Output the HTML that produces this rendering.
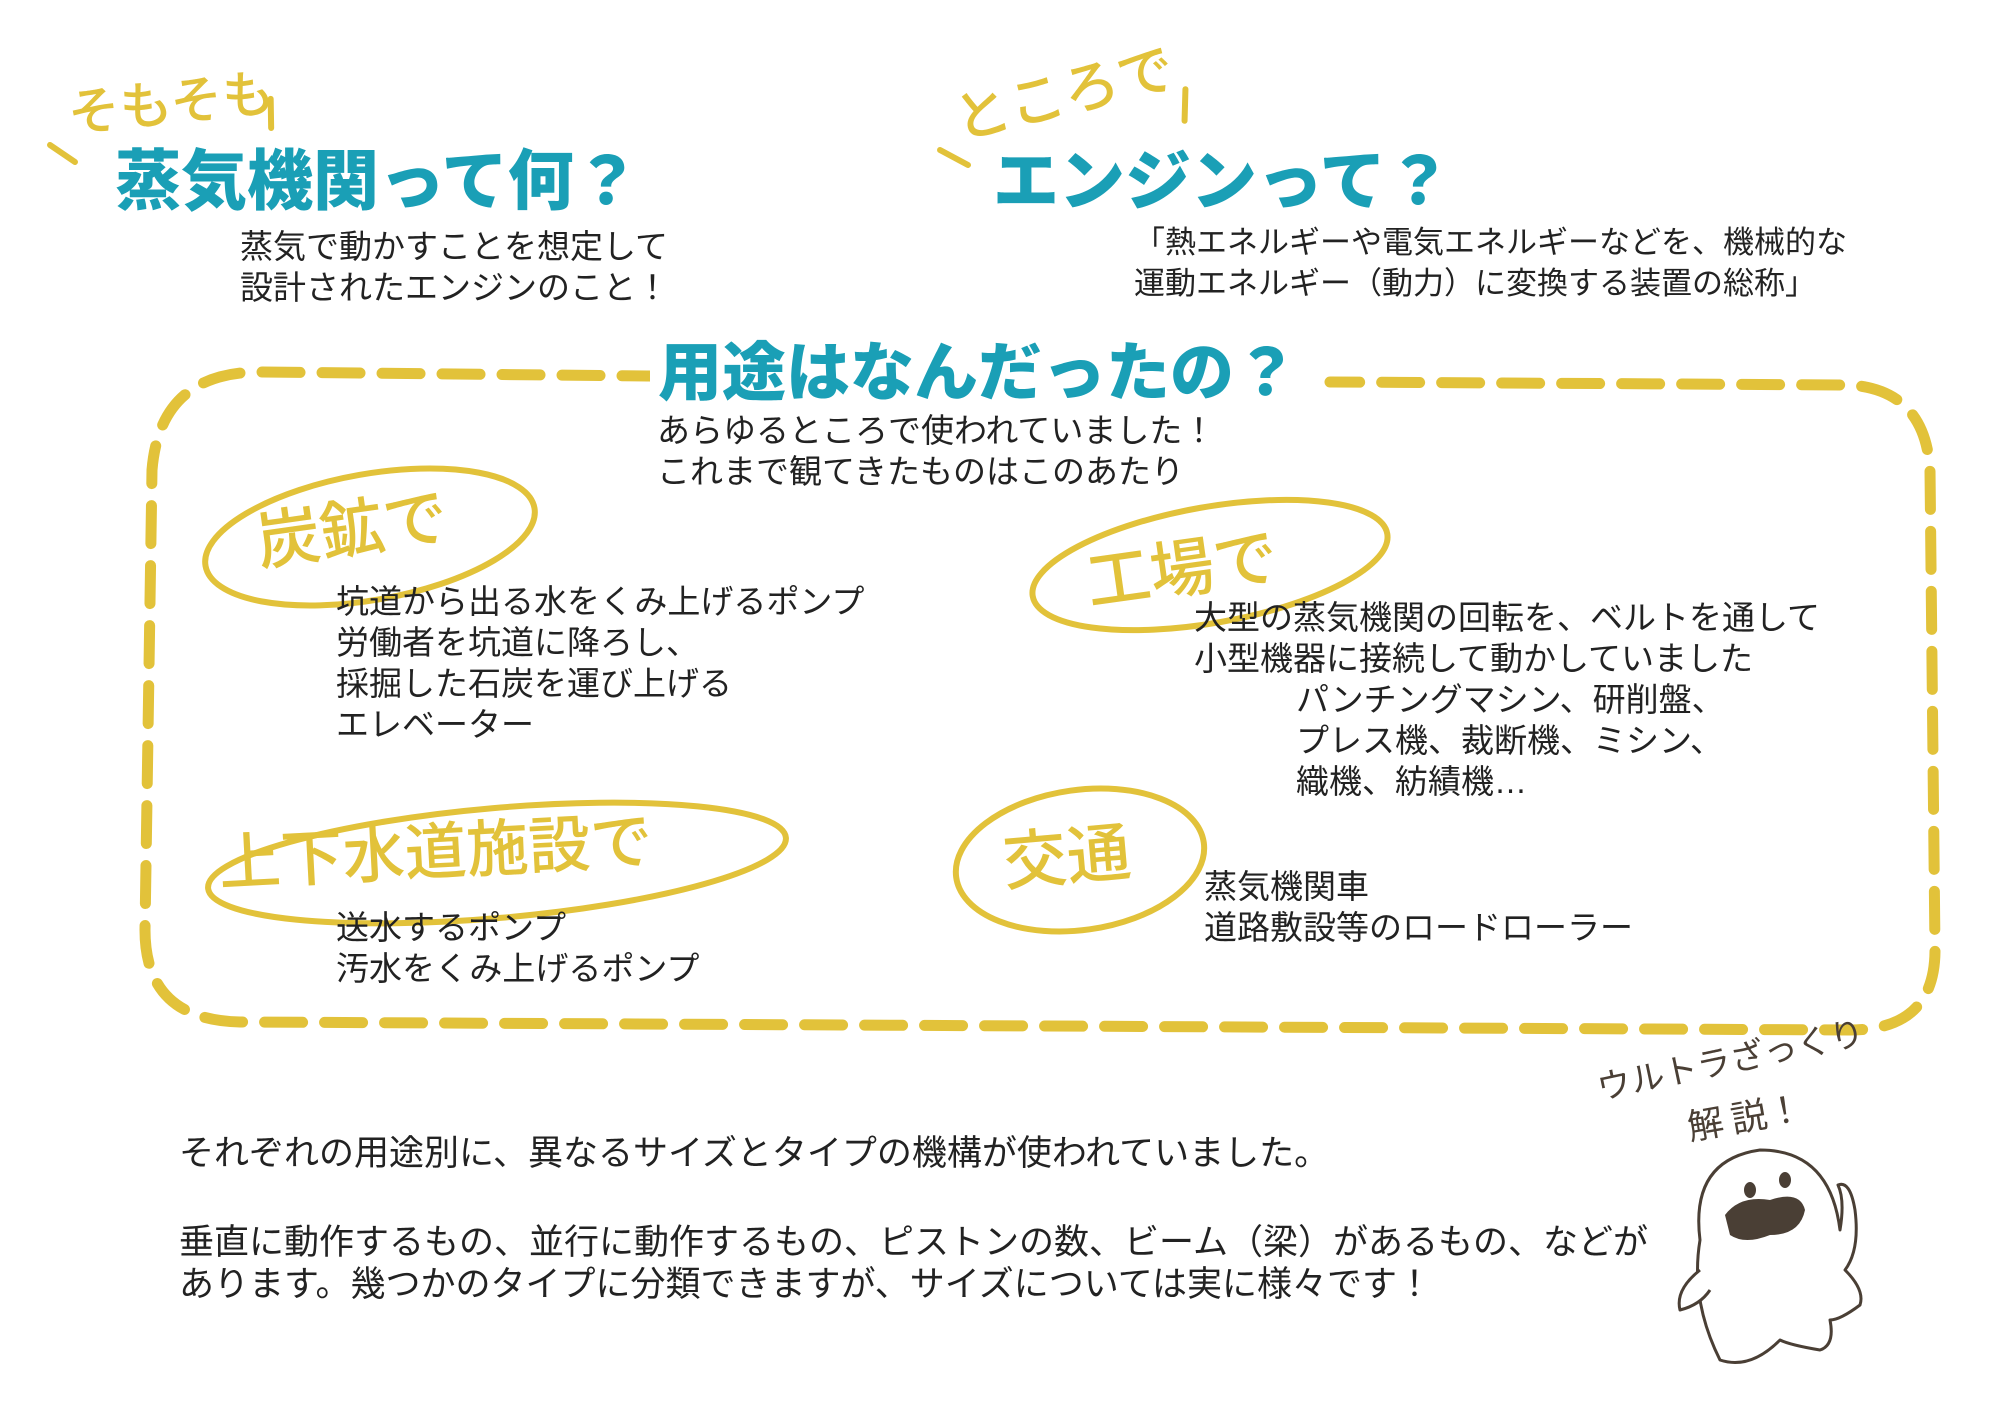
<!DOCTYPE html>
<html><head><meta charset="utf-8"><style>
html,body{margin:0;padding:0;background:#fff;}
body{width:1999px;height:1409px;position:relative;overflow:hidden;font-family:"Liberation Sans","Noto Sans CJK JP",sans-serif;color:#222;}
.t{position:absolute;white-space:nowrap;font-size:33px;line-height:41px;}
.h{position:absolute;white-space:nowrap;font-weight:900;color:#1a9fb6;font-family:"Noto Sans CJK JP",sans-serif;}
.hw{font-family:"Noto Sans CJK JP",sans-serif;fill:#e2c23a;font-weight:500;}
</style></head><body>
<svg width="1999" height="1409" style="position:absolute;left:0;top:0">
 <g fill="none" stroke="#e2c23a" stroke-linecap="round">
  <path d="M840 378 L260 372 Q160 372 152 470 L145 930 Q145 1020 240 1022 L1850 1030 Q1935 1030 1935 950 L1930 470 Q1925 390 1850 385 L1330 382" stroke-width="11" stroke-dasharray="38 22"/>
  <ellipse cx="370" cy="537" rx="167" ry="63" transform="rotate(-10 370 537)" stroke-width="6"/>
  <ellipse cx="1210" cy="565" rx="180" ry="58" transform="rotate(-10 1210 565)" stroke-width="6"/>
  <ellipse cx="497" cy="863" rx="290" ry="55" transform="rotate(-5 497 863)" stroke-width="6"/>
  <ellipse cx="1080" cy="860" rx="125" ry="70" transform="rotate(-8 1080 860)" stroke-width="6"/>
  <path d="M50 145 L75 162" stroke-width="6"/>
  <path d="M265 100 L280 125" stroke-width="6" transform="rotate(30 270 110)"/>
  <path d="M940 150 L968 165" stroke-width="6"/>
  <path d="M1180 90 L1190 120" stroke-width="6" transform="rotate(20 1185 105)"/>
 </g>
 <text class="hw" x="70" y="132" font-size="52" transform="rotate(-6 70 132)">そもそも</text>
 <text class="hw" x="960" y="140" font-size="56" transform="rotate(-14 960 140)">ところで</text>
 <text class="hw" x="260" y="565" font-size="64" transform="rotate(-8 260 565)">炭鉱で</text>
 <text class="hw" x="1090" y="605" font-size="64" transform="rotate(-8 1090 605)">工場で</text>
 <text class="hw" x="220" y="885" font-size="62" transform="rotate(-3 220 885)">上下水道施設で</text>
 <text class="hw" x="1005" y="885" font-size="64" transform="rotate(-5 1005 885)">交通</text>
 <text x="1600" y="1100" font-size="34" fill="#4a3f35" font-family="Noto Sans CJK JP,sans-serif" transform="rotate(-12 1600 1100)">ウルトラざっくり</text>
 <text x="1690" y="1140" font-size="36" fill="#4a3f35" font-family="Noto Sans CJK JP,sans-serif" transform="rotate(-10 1690 1140)">解 説！</text>
 <g fill="#fff" stroke="#4a3f35" stroke-width="3" stroke-linejoin="round">
  <path d="M1720 1360 Q1690 1300 1700 1240 Q1690 1160 1760 1150 Q1830 1150 1840 1230 Q1845 1200 1838 1185 Q1850 1180 1855 1210 Q1860 1250 1845 1270 Q1865 1290 1860 1305 Q1840 1320 1830 1320 Q1835 1345 1820 1350 Q1790 1345 1780 1340 Q1750 1370 1720 1360 Z"/>
  <path d="M1700 1270 Q1675 1290 1680 1310 Q1700 1305 1710 1290"/>
 </g>
 <ellipse cx="1750" cy="1190" rx="6" ry="8" fill="#4a3f35"/>
 <ellipse cx="1785" cy="1180" rx="6" ry="8" fill="#4a3f35"/>
 <path d="M1725 1215 Q1740 1195 1770 1200 Q1800 1190 1805 1210 Q1800 1235 1770 1235 Q1745 1245 1730 1235 Z" fill="#4a3f35"/>
</svg>

<div class="h" style="left:115px;top:136px;font-size:66px;line-height:80px;">蒸気機関って何？</div>
<div class="t" style="left:240px;top:226px;">蒸気で動かすことを想定して<br>設計されたエンジンのこと！</div>
<div class="h" style="left:993px;top:136px;font-size:66px;line-height:80px;">エンジンって？</div>
<div class="t" style="left:1134px;top:222px;font-size:31px;">「熱エネルギーや電気エネルギーなどを、機械的な<br>運動エネルギー（動力）に変換する装置の総称」</div>
<div class="h" style="left:650px;top:328px;font-size:64px;line-height:80px;background:#fff;padding:0 8px;">用途はなんだったの？</div>
<div class="t" style="left:657px;top:410px;">あらゆるところで使われていました！<br>これまで観てきたものはこのあたり</div>
<div class="t" style="left:336px;top:581px;">坑道から出る水をくみ上げるポンプ<br>労働者を坑道に降ろし、<br>採掘した石炭を運び上げる<br>エレベーター</div>
<div class="t" style="left:1194px;top:597px;">大型の蒸気機関の回転を、ベルトを通して<br>小型機器に接続して動かしていました</div>
<div class="t" style="left:1296px;top:679px;">パンチングマシン、研削盤、<br>プレス機、裁断機、ミシン、<br>織機、紡績機…</div>
<div class="t" style="left:336px;top:907px;">送水するポンプ<br>汚水をくみ上げるポンプ</div>
<div class="t" style="left:1204px;top:866px;">蒸気機関車<br>道路敷設等のロードローラー</div>
<div class="t" style="left:179px;top:1133px;font-size:35px;line-height:42px;">それぞれの用途別に、異なるサイズとタイプの機構が使われていました。</div>
<div class="t" style="left:179px;top:1222px;font-size:35px;line-height:42px;">垂直に動作するもの、並行に動作するもの、ピストンの数、ビーム（梁）があるもの、などが<br>あります。幾つかのタイプに分類できますが、サイズについては実に様々です！</div>
</body></html>
